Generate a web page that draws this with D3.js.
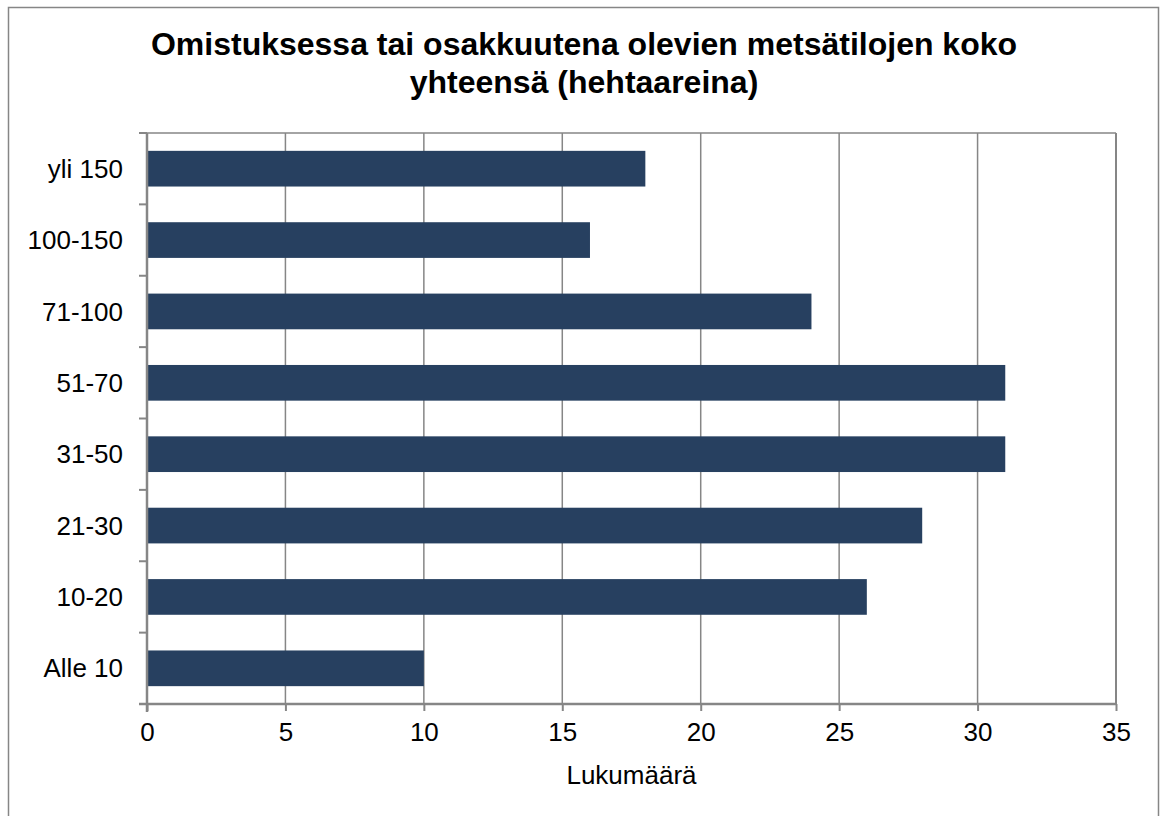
<!DOCTYPE html>
<html><head><meta charset="utf-8">
<script src="https://cdn.jsdelivr.net/npm/d3@7"></script>
<style>body{margin:0;background:#fff}</style>
</head><body>
<svg id="c" width="1160" height="816"></svg>
<script>
const categories = ["Alle 10","10-20","21-30","31-50","51-70","71-100","100-150","yli 150"];
const values = [10,26,28,31,31,24,16,18];
const xTicks = [0,5,10,15,20,25,30,35];
const titleLines = ["Omistuksessa tai osakkuutena olevien metsätilojen koko","yhteensä (hehtaareina)"];
const xTitle = "Lukumäärä";

const svg = d3.select("#c");
const font = "Arial, 'Liberation Sans', sans-serif";
svg.append("rect").attr("x",8.5).attr("y",7.5).attr("width",1150).attr("height",820)
  .attr("fill","#fff").attr("stroke","#868686").attr("stroke-width",1.5);

const L=147, R=1116, T=133, B=704;
const x = d3.scaleLinear().domain([0,35]).range([L,R]);
const y = d3.scaleBand().domain(categories.slice().reverse()).range([T,B]).paddingInner(0.5).paddingOuter(0.25);
const yb = d3.scaleBand().domain(categories.slice().reverse()).range([T,B]);

const grid = "#868686";
svg.append("g").selectAll("line").data(xTicks.slice(1)).join("line")
  .attr("x1",d=>x(d)).attr("x2",d=>x(d)).attr("y1",T).attr("y2",B)
  .attr("stroke",grid).attr("stroke-width",1.5);
svg.append("line").attr("x1",L).attr("x2",R).attr("y1",T).attr("y2",T).attr("stroke",grid).attr("stroke-width",1.5);
svg.append("line").attr("x1",R).attr("x2",R).attr("y1",T).attr("y2",B).attr("stroke",grid).attr("stroke-width",2);

svg.append("g").selectAll("rect").data(categories).join("rect")
  .attr("x",x(0)).attr("y",d=>y(d)).attr("height",y.bandwidth())
  .attr("width",(d,i)=>x(values[i])-x(0)).attr("fill","#274060");

const xa = svg.append("g").attr("transform",`translate(0,${B})`)
  .call(d3.axisBottom(x).tickValues(xTicks).tickSize(7).tickSizeOuter(0).tickPadding(12));
xa.select(".domain").attr("stroke",grid).attr("stroke-width",2.5).attr("d",`M${L-8},0H${R}`);
xa.selectAll(".tick line").attr("stroke",grid).attr("stroke-width",2);
xa.selectAll("text").attr("font-family",font).attr("font-size",26).attr("fill","#000");

const ya = svg.append("g").attr("transform",`translate(${L},0)`);
ya.append("line").attr("x1",0).attr("x2",0).attr("y1",T).attr("y2",B+8).attr("stroke",grid).attr("stroke-width",2.5);
const bounds = categories.slice().reverse().map(c=>yb(c));
ya.selectAll("line.tk").data(bounds).join("line").attr("class","tk")
  .attr("x1",-8).attr("x2",0).attr("y1",d=>d).attr("y2",d=>d).attr("stroke",grid).attr("stroke-width",2);
ya.selectAll("text").data(categories).join("text")
  .attr("x",-24).attr("y",d=>y(d)+y.bandwidth()/2).attr("dy","0.35em")
  .attr("text-anchor","end").attr("font-family",font).attr("font-size",26).attr("fill","#000").text(d=>d);

svg.append("g").selectAll("text").data(titleLines).join("text")
  .attr("x",584).attr("y",(d,i)=>55+i*38).attr("text-anchor","middle")
  .attr("font-family",font).attr("font-weight","bold").attr("font-size",32).attr("fill","#000").text(d=>d);
svg.append("text").attr("x",(L+R)/2).attr("y",784).attr("text-anchor","middle")
  .attr("font-family",font).attr("font-size",26).attr("fill","#000").text(xTitle);
</script>
</body></html>
